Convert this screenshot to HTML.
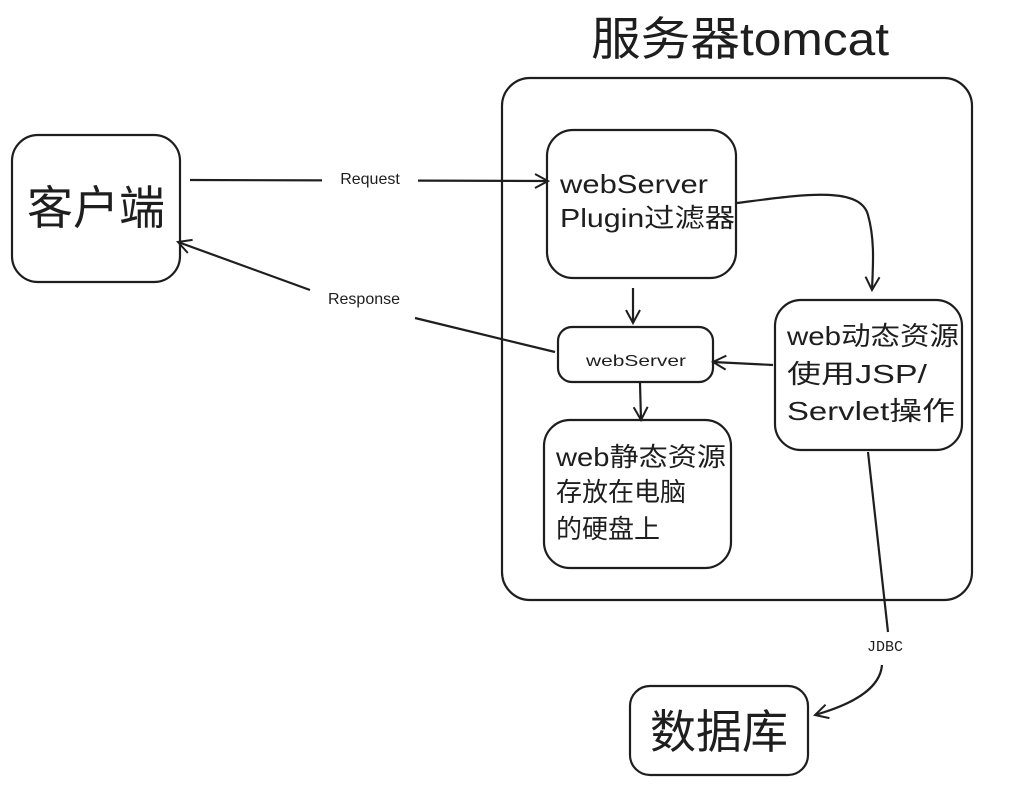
<!DOCTYPE html>
<html><head><meta charset="utf-8"><style>
body{margin:0;background:#fff;width:1015px;height:795px;overflow:hidden}
</style></head><body>
<svg width="1015" height="795" xmlns="http://www.w3.org/2000/svg" style="font-family:'Liberation Sans','Noto Sans CJK SC',sans-serif">
<defs><marker id="a" markerWidth="16" markerHeight="16" refX="14" refY="8" orient="auto" markerUnits="userSpaceOnUse"><path d="M1,1 L14,8 L1,15" fill="none" stroke="#1e1e1e" stroke-width="2"/></marker></defs>
<g fill="none" stroke="#1e1e1e" stroke-width="2.2">
<rect x="502" y="78" width="470" height="522" rx="28"/>
<rect x="12" y="135" width="168" height="147" rx="26"/>
<rect x="547" y="130" width="189" height="148" rx="26"/>
<rect x="558" y="327" width="155" height="55" rx="14"/>
<rect x="775" y="300" width="187" height="150" rx="26"/>
<rect x="544" y="420" width="187" height="148" rx="26"/>
<rect x="630" y="686" width="178" height="89" rx="20"/>
<path d="M190,180 L548,181" marker-end="url(#a)"/>
<path d="M555,352 L415,318"/>
<path d="M310,290 L178,242" marker-end="url(#a)"/>
<path d="M737,203 C800,195 860,185 868,215 C875,240 873,265 872,290" marker-end="url(#a)"/>
<path d="M633,288 L633,323" marker-end="url(#a)"/>
<path d="M640,383 L641,420" marker-end="url(#a)"/>
<path d="M773,365 L713,362" marker-end="url(#a)"/>
<path d="M868,452 L888,632"/>
<path d="M882,665 C880,690 850,705 815,715" marker-end="url(#a)"/>
</g>
<rect x="322" y="166" width="96" height="24" fill="#fff"/>
<text x="370" y="184" font-size="16" text-anchor="middle" fill="#1e1e1e">Request</text>
<text x="364" y="304" font-size="16" text-anchor="middle" fill="#1e1e1e">Response</text>
<text x="885" y="651" font-size="15" text-anchor="middle" fill="#1e1e1e" font-family="Liberation Mono,monospace">JDBC</text>
<text x="740" y="55" font-size="46" text-anchor="middle" fill="#1e1e1e" textLength="298" lengthAdjust="spacingAndGlyphs">服务器tomcat</text>
<text x="96" y="224" font-size="46" text-anchor="middle" fill="#1e1e1e">客户端</text>
<text x="719" y="748" font-size="46" text-anchor="middle" fill="#1e1e1e">数据库</text>
<g font-size="26" fill="#1e1e1e">
<text x="560" y="193" textLength="148" lengthAdjust="spacingAndGlyphs">webServer</text>
<text x="560" y="227" textLength="175" lengthAdjust="spacingAndGlyphs">Plugin过滤器</text>
<text x="787" y="345" textLength="172" lengthAdjust="spacingAndGlyphs">web动态资源</text>
<text x="787" y="383" textLength="140" lengthAdjust="spacingAndGlyphs">使用JSP/</text>
<text x="787" y="420" textLength="168" lengthAdjust="spacingAndGlyphs">Servlet操作</text>
<text x="556" y="466" textLength="170" lengthAdjust="spacingAndGlyphs">web静态资源</text>
<text x="556" y="501">存放在电脑</text>
<text x="556" y="538">的硬盘上</text>
</g>
<text x="636" y="366" font-size="16" text-anchor="middle" fill="#1e1e1e" textLength="100" lengthAdjust="spacingAndGlyphs">webServer</text>
</svg>
</body></html>
